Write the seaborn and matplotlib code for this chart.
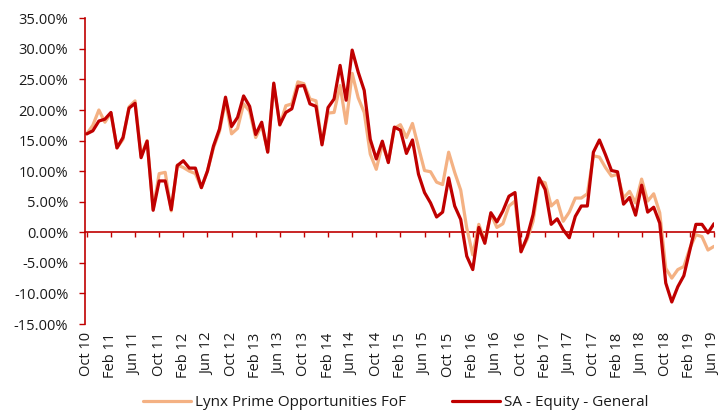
import numpy as np
import pandas as pd
import matplotlib
matplotlib.use("Agg")
import matplotlib.pyplot as plt
import seaborn as sns
from matplotlib.lines import Line2D

# ---- data -------------------------------------------------------------
tick_labels = ["Oct 10", "Feb 11", "Jun 11", "Oct 11", "Feb 12", "Jun 12", "Oct 12",
               "Feb 13", "Jun 13", "Oct 13", "Feb 14", "Jun 14", "Oct 14", "Feb 15",
               "Jun 15", "Oct 15", "Feb 16", "Jun 16", "Oct 16", "Feb 17", "Jun 17",
               "Oct 17", "Feb 18", "Jun 18", "Oct 18", "Feb 19", "Jun 19"]

lynx = [16.1, 17.5, 20.0, 18.0, 19.5, 13.8, 15.2, 20.5, 21.5, 12.5, 15.0, 3.8, 9.6, 9.8, 3.5,
        11.0, 10.6, 10.0, 9.6, 7.3, 10.0, 13.8, 16.5, 21.5, 16.1, 17.0, 21.0, 19.8, 15.5, 17.5,
        13.2, 24.2, 17.5, 20.7, 21.0, 24.6, 24.3, 21.8, 21.5, 14.5, 19.5, 19.6, 24.0, 17.8, 26.0,
        22.0, 19.6, 12.8, 10.3, 14.4, 11.6, 17.0, 17.6, 15.5, 17.8, 13.9, 10.1, 9.9, 8.2, 7.8,
        13.1, 9.8, 6.9, 0.7, -3.7, 1.3, -1.5, 3.0, 0.8, 1.4, 4.3, 5.1, -3.1, -1.2, 1.8,
        8.4, 8.1, 4.3, 5.2, 1.8, 3.3, 5.6, 5.6, 6.3, 12.5, 12.3, 10.6, 9.2, 9.5, 5.6,
        6.7, 4.8, 8.7, 5.1, 6.3, 3.2, -5.9, -7.5, -6.1, -5.6, -2.6, -0.4, -0.7, -2.9, -2.3]

sa_equity = [16.1, 16.6, 18.2, 18.5, 19.6, 13.8, 15.5, 20.3, 21.1, 12.2, 14.9, 3.6, 8.4, 8.4, 3.7,
             10.9, 11.7, 10.5, 10.5, 7.3, 10.0, 14.1, 16.9, 22.1, 17.3, 18.8, 22.3, 20.6, 16.0, 18.0,
             13.1, 24.4, 17.6, 19.6, 20.2, 23.9, 24.0, 21.0, 20.6, 14.3, 20.4, 21.8, 27.3, 21.6, 29.8,
             26.2, 23.2, 15.2, 12.0, 14.9, 11.4, 17.2, 16.7, 12.9, 15.1, 9.5, 6.5, 4.8, 2.5, 3.3,
             8.9, 4.3, 2.1, -3.9, -6.1, 0.8, -1.8, 3.2, 1.7, 3.5, 5.9, 6.5, -3.2, -0.8, 2.9,
             8.9, 7.0, 1.3, 2.2, 0.4, -0.9, 2.6, 4.3, 4.3, 13.1, 15.1, 12.7, 10.1, 9.9, 4.6,
             5.7, 2.8, 7.7, 3.3, 4.1, 1.5, -8.3, -11.4, -8.9, -7.1, -2.9, 1.3, 1.3, -0.1, 1.4]

series_names = ["Lynx Prime Opportunities FoF", "SA - Equity - General"]
series_colors = ["#F4B183", "#C00000"]

# ---- figure -----------------------------------------------------------
sns.set_theme(style="white")
plt.rcParams["font.family"] = ["Open Sans", "DejaVu Sans"]

months = np.arange(len(lynx))
df = pd.concat([
    pd.DataFrame({"month": months, "value": lynx, "series": series_names[0]}),
    pd.DataFrame({"month": months, "value": sa_equity, "series": series_names[1]}),
])

fig = plt.figure(figsize=(7.24, 4.12), dpi=100)
ax = fig.add_axes([85 / 724, 1 - 324 / 412, (714 - 85) / 724, (324 - 18.3) / 412])

sns.lineplot(data=df, x="month", y="value", hue="series", hue_order=series_names,
             palette=series_colors, linewidth=2.3, ax=ax, legend=False, sort=False)

axis_red = "#C00000"
text_col = "#1a1a1a"
fs = 10.5

ax.set_xlim(-0.3, len(lynx) - 1)
ax.set_ylim(-15, 35)
ax.set_xlabel("")
ax.set_ylabel("")

yt = np.arange(-15, 36, 5)
ax.set_yticks(yt)
ax.set_yticklabels([f"{v:.2f}%" for v in yt], fontsize=fs, color=text_col)
ax.tick_params(axis="y", direction="out", length=4, width=1, color=axis_red, pad=8, left=True)

tick_pos = np.arange(0, len(lynx), 4)
ax.set_xticks(tick_pos)
ax.set_xticklabels(tick_labels, rotation=90, fontsize=fs, color=text_col)
ax.tick_params(axis="x", length=0, pad=6)

for side in ["top", "right", "bottom"]:
    ax.spines[side].set_visible(False)
ax.spines["left"].set_color(axis_red)
ax.spines["left"].set_linewidth(1.2)

# zero axis with tick marks
sec = ax.secondary_xaxis(15 / 50)
sec.set_xticks(tick_pos)
sec.set_xticklabels([])
sec.tick_params(axis="x", direction="out", length=3.5, width=1, color=axis_red)
sec.spines["bottom"].set_color(axis_red)
sec.spines["bottom"].set_linewidth(1.2)
for side in ["top", "left", "right"]:
    sec.spines[side].set_visible(False)

# legend
handles = [Line2D([0], [0], color=c, lw=2.3) for c in series_colors]
fig.legend(handles, series_names, loc="center", bbox_to_anchor=(396 / 724, 9.5 / 412),
           ncol=2, frameon=False, fontsize=11, handlelength=3.1, handletextpad=0.3,
           columnspacing=3.0, labelcolor=text_col, borderpad=0.1)

fig.savefig("out.png", dpi=100)
